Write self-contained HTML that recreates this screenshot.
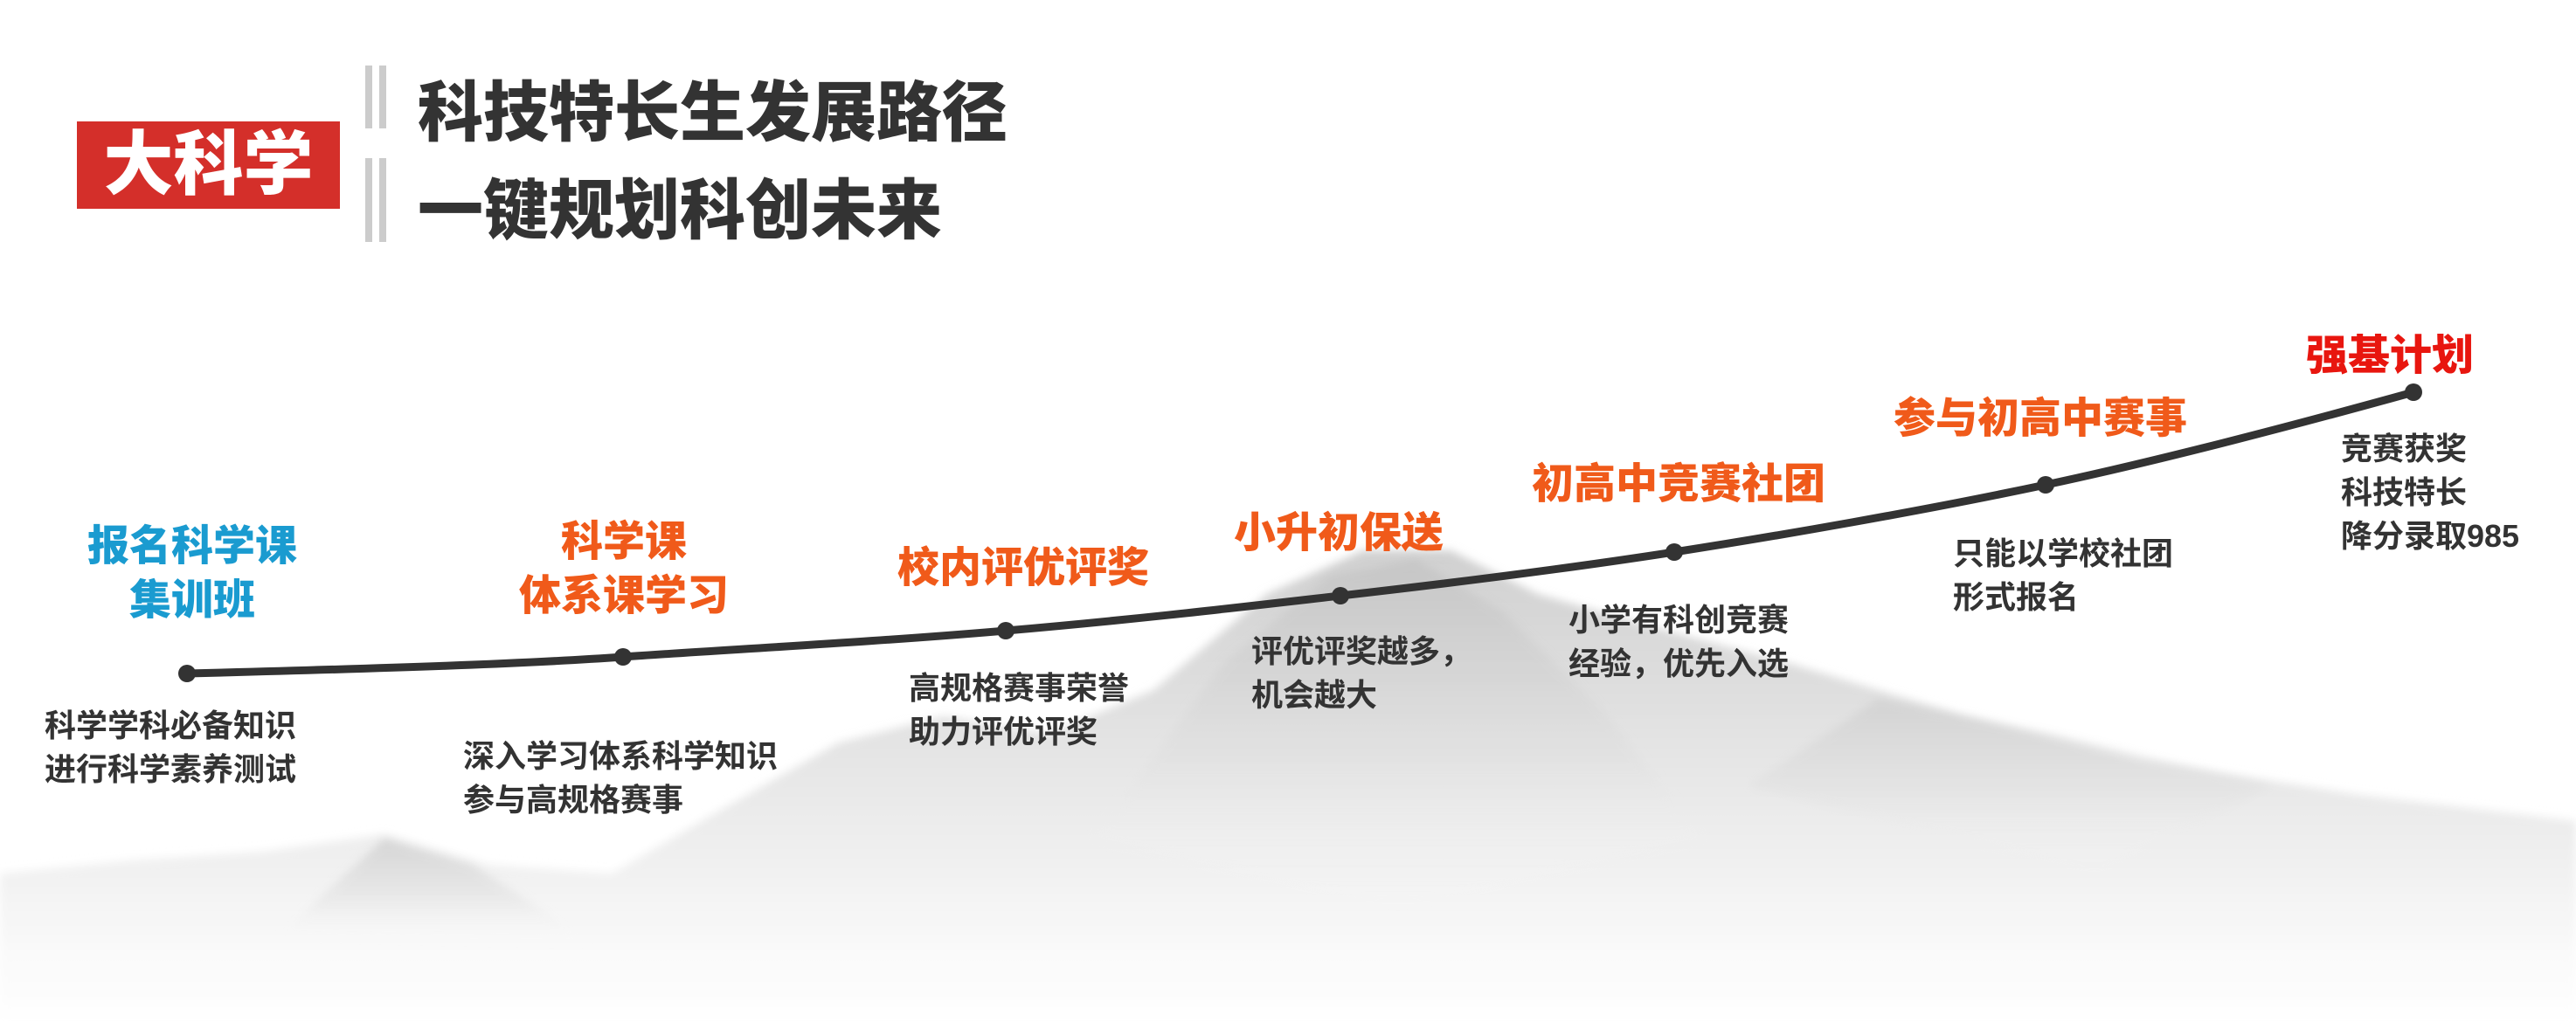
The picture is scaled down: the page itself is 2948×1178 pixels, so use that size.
<!DOCTYPE html>
<html><head><meta charset="utf-8"><style>
html,body{margin:0;padding:0;background:#fff}
#c{position:relative;width:2948px;height:1178px;overflow:hidden;background:#fff;font-family:"Liberation Sans","Noto Sans CJK SC",sans-serif}
.t{position:absolute;white-space:nowrap;font-weight:900}
.h{font-size:48px;line-height:62px;text-align:center;transform:translateX(-50%)}
.d{font-size:36px;line-height:50px;color:#333;font-weight:700}
</style></head><body><div id="c">
<svg width="2948" height="1178" style="position:absolute;left:0;top:0">
<defs>
<linearGradient id="m" x1="0" y1="0" x2="0" y2="1">
<stop offset="0" stop-color="#d0d0d0"/><stop offset="0.45" stop-color="#e6e6e6"/><stop offset="0.85" stop-color="#fafafa"/><stop offset="1" stop-color="#fff"/></linearGradient>
<linearGradient id="m2" x1="0" y1="0" x2="0" y2="1">
<stop offset="0" stop-color="#bdbdbd"/><stop offset="0.6" stop-color="#e2e2e2"/><stop offset="1" stop-color="#fff" stop-opacity="0"/></linearGradient>
<filter id="b"><feGaussianBlur stdDeviation="5"/></filter>
</defs>
<path d="M0,1000 L150,985 L300,975 L440,955 L560,990 L700,1000 L820,930 L960,850 L1080,820 L1200,840 L1320,790 L1450,680 L1560,630 L1660,630 L1760,680 L1900,720 L2050,760 L2250,820 L2450,870 L2700,910 L2948,940 L2948,1178 L0,1178 Z" fill="url(#m)" filter="url(#b)"/>
<path d="M1250,960 L1400,760 L1520,660 L1620,640 L1720,700 L1840,820 L1950,960 L1600,1040 Z" fill="url(#m2)" opacity="0.55" filter="url(#b)"/>
<path d="M2000,900 L2150,800 L2350,840 L2600,900 L2400,1000 Z" fill="url(#m2)" opacity="0.35" filter="url(#b)"/>
<path d="M320,1070 L440,960 L540,990 L680,1080 Z" fill="url(#m2)" opacity="0.5" filter="url(#b)"/>
<path d="M214,771 C450,765 600,760 713,752 S1000,735 1151,722 S1420,695 1534,682 S1800,650 1916,632 S2200,585 2341,555 S2650,480 2762,449" fill="none" stroke="#333" stroke-width="9" stroke-linecap="round"/>
<g fill="#333"><circle cx="214" cy="771" r="10"/><circle cx="713" cy="752" r="10"/><circle cx="1151" cy="722" r="10"/><circle cx="1534" cy="682" r="10"/><circle cx="1916" cy="632" r="10"/><circle cx="2341" cy="555" r="10"/><circle cx="2762" cy="449" r="10"/></g>
<rect x="418" y="75" width="8" height="72" fill="#ccc"/><rect x="434" y="75" width="8" height="72" fill="#ccc"/>
<rect x="418" y="181" width="8" height="96" fill="#ccc"/><rect x="434" y="181" width="8" height="96" fill="#ccc"/>
</svg>
<div class="t" style="left:88px;top:139px;width:301px;height:100px;background:#d42f2a;color:#fff;font-size:80px;line-height:100px;text-align:center">大科学</div>
<div class="t" style="left:478px;top:84px;font-size:75px;line-height:90px;color:#333">科技特长生发展路径</div>
<div class="t" style="left:478px;top:196px;font-size:75px;line-height:90px;color:#333">一键规划科创未来</div>
<div class="t h" style="left:220px;top:595px;color:#1a9bd0">报名科学课<br>集训班</div>
<div class="t h" style="left:714px;top:590px;color:#f05a1a">科学课<br>体系课学习</div>
<div class="t h" style="left:1171px;top:620px;color:#f05a1a">校内评优评奖</div>
<div class="t h" style="left:1532px;top:580px;color:#f05a1a">小升初保送</div>
<div class="t h" style="left:1921px;top:524px;color:#f05a1a">初高中竞赛社团</div>
<div class="t h" style="left:2335px;top:449px;color:#f05a1a">参与初高中赛事</div>
<div class="t h" style="left:2735px;top:377px;color:#e8160f">强基计划</div>
<div class="t d" style="left:51px;top:806px">科学学科必备知识<br>进行科学素养测试</div>
<div class="t d" style="left:530px;top:841px">深入学习体系科学知识<br>参与高规格赛事</div>
<div class="t d" style="left:1040px;top:763px">高规格赛事荣誉<br>助力评优评奖</div>
<div class="t d" style="left:1432px;top:721px">评优评奖越多，<br>机会越大</div>
<div class="t d" style="left:1795px;top:685px">小学有科创竞赛<br>经验，优先入选</div>
<div class="t d" style="left:2235px;top:609px">只能以学校社团<br>形式报名</div>
<div class="t d" style="left:2679px;top:489px">竞赛获奖<br>科技特长<br>降分录取985</div>
</div></body></html>
